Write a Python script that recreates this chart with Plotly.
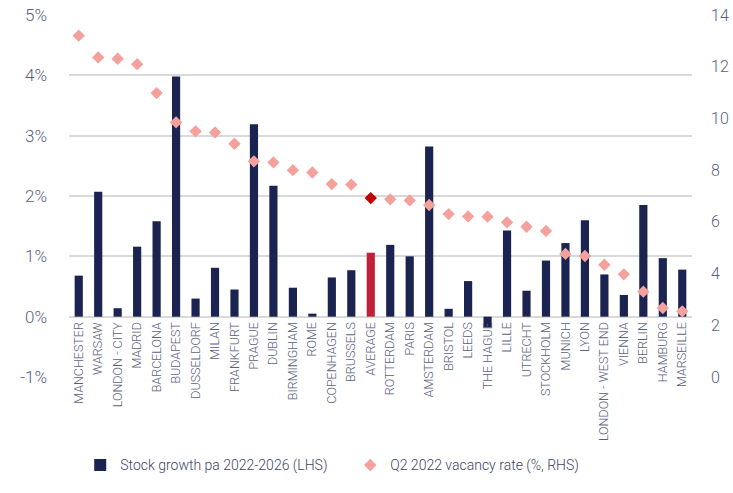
import plotly.graph_objects as go

cities = ["MANCHESTER", "WARSAW", "LONDON - CITY", "MADRID", "BARCELONA", "BUDAPEST",
          "DUSSELDORF", "MILAN", "FRANKFURT", "PRAGUE", "DUBLIN", "BIRMINGHAM", "ROME",
          "COPENHAGEN", "BRUSSELS", "AVERAGE", "ROTTERDAM", "PARIS", "AMSTERDAM", "BRISTOL",
          "LEEDS", "THE HAGUE", "LILLE", "UTRECHT", "STOCKHOLM", "MUNICH", "LYON",
          "LONDON - WEST END", "VIENNA", "BERLIN", "HAMBURG", "MARSEILLE"]

stock_growth = [0.68, 2.07, 0.14, 1.16, 1.58, 3.98, 0.30, 0.81, 0.45, 3.19, 2.17, 0.48, 0.05,
                0.65, 0.77, 1.06, 1.19, 1.00, 2.82, 0.13, 0.59, -0.18, 1.43, 0.43, 0.93,
                1.22, 1.60, 0.70, 0.36, 1.85, 0.97, 0.78]

vacancy = [13.2, 12.36, 12.31, 12.1, 10.98, 9.85, 9.5, 9.46, 9.02, 8.34, 8.30, 8.0, 7.91,
           7.46, 7.44, 6.92, 6.87, 6.83, 6.65, 6.30, 6.21, 6.20, 5.98, 5.81, 5.65, 4.76,
           4.68, 4.34, 3.97, 3.30, 2.67, 2.54]

left_ticks = [-1, 0, 1, 2, 3, 4, 5]
left_labels = ["-1%", "0%", "1%", "2%", "3%", "4%", "5%"]
right_ticks = [0, 2, 4, 6, 8, 10, 12, 14]
right_labels = ["0", "2", "4", "6", "8", "10", "12", "14"]

NAVY = "#1B2350"
PINK = "#F4A09C"
bar_colors = ["#C0213A" if c == "AVERAGE" else NAVY for c in cities]
dot_colors = ["#C00000" if c == "AVERAGE" else PINK for c in cities]

FONT = "Roboto, sans-serif"
TICK_COLOR = "#5A6180"

Y_MIN, Y_MAX = -1, 5

fig = go.Figure()
fig.add_trace(go.Bar(
    x=cities, y=stock_growth, name="Stock growth pa 2022-2026 (LHS)",
    marker=dict(color=bar_colors, line=dict(width=0)), width=0.42, yaxis="y",
))
fig.add_trace(go.Scatter(
    x=cities, y=vacancy, name="Q2 2022 vacancy rate (%, RHS)", mode="markers",
    marker=dict(symbol="diamond", size=9.5, color=dot_colors), yaxis="y2",
))

fig.update_layout(
    width=733, height=493,
    margin=dict(l=69, r=41, t=15, b=116),
    plot_bgcolor="white", paper_bgcolor="white",
    font=dict(family=FONT, color=TICK_COLOR, size=15, weight=300),
    showlegend=True,
    legend=dict(orientation="h", x=0.018, xanchor="left", y=-0.2, yanchor="top",
                bgcolor="rgba(0,0,0,0)", entrywidth=225,
                font=dict(size=14, color="#3D4463", weight=300), tracegroupgap=0),
    xaxis=dict(tickangle=-90, tickfont=dict(size=12.5, color=TICK_COLOR, weight=300),
               showgrid=False, zeroline=False, showline=False, ticks="",
               ticklabelstandoff=2, automargin=False, anchor="free",
               position=(0 - Y_MIN) / (Y_MAX - Y_MIN),
               range=[-0.5, len(cities) - 0.5]),
    yaxis=dict(range=[Y_MIN, Y_MAX], tickvals=left_ticks, ticktext=left_labels,
               showgrid=True, gridcolor="#D9D9D9", gridwidth=1.5, zeroline=False,
               showline=False, tickfont=dict(size=17, color=TICK_COLOR, weight=300),
               ticks="", ticklabelstandoff=21, automargin=False),
    yaxis2=dict(range=[0, 14], tickvals=right_ticks, ticktext=right_labels,
                overlaying="y", side="right", showgrid=False, zeroline=False,
                showline=False, tickfont=dict(size=16, color=TICK_COLOR, weight=300),
                ticks="", ticklabelstandoff=18, automargin=False),
)

fig.write_html("out.html", config={"displayModeBar": False},
               post_script="document.body.style.margin='0';document.body.style.overflow='hidden';")
